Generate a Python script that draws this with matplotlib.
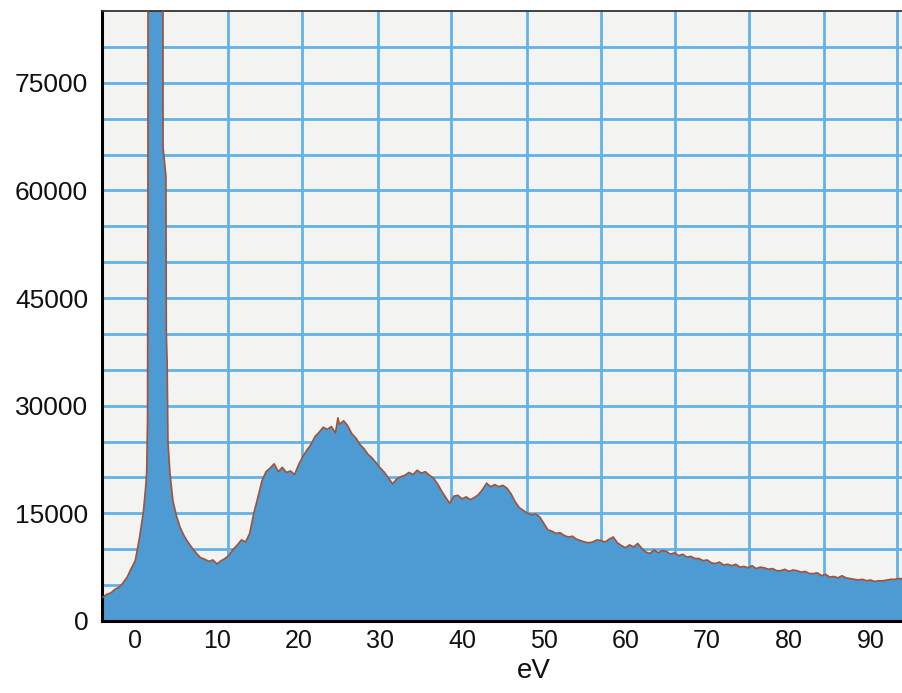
import matplotlib
matplotlib.use("Agg")
import matplotlib.pyplot as plt

# energy loss axis (eV) and counts
ev = [-4.0, -3.5, -3.0, -2.5, -2.0, -1.5, -1.0, -0.5, 0.0, 0.5, 1.0, 1.3,
      1.4, 1.5, 1.55, 1.6, 3.3, 3.4, 3.75, 3.8, 3.9, 4.0, 4.25, 4.6,
      5.0, 5.5, 6.0, 6.5, 7.0, 7.5, 8.0, 8.5, 9.0, 9.5, 10.0, 10.5,
      11.0, 11.5, 12.0, 12.5, 13.0, 13.5, 14.0, 14.5, 15.0, 15.5, 16.0, 16.5,
      17.0, 17.5, 18.0, 18.5, 19.0, 19.5, 20.0, 20.5, 21.0, 21.5, 22.0, 22.5,
      23.0, 23.5, 24.0, 24.5, 24.8, 25.0, 25.5, 26.0, 26.5, 27.0, 27.5, 28.0,
      28.5, 29.0, 29.5, 30.0, 30.5, 31.0, 31.5, 32.0, 32.5, 33.0, 33.5, 34.0,
      34.5, 35.0, 35.5, 36.0, 36.5, 37.0, 37.5, 38.0, 38.5, 39.0, 39.5, 40.0,
      40.5, 41.0, 41.5, 42.0, 42.5, 43.0, 43.5, 44.0, 44.5, 45.0, 45.5, 46.0,
      46.5, 47.0, 47.5, 48.0, 48.5, 49.0, 49.5, 50.0, 50.5, 51.0, 51.5, 52.0,
      52.5, 53.0, 53.5, 54.0, 54.5, 55.0, 55.5, 56.0, 56.5, 57.0, 57.5, 58.0,
      58.5, 59.0, 59.5, 60.0, 60.5, 61.0, 61.5, 62.0, 62.5, 63.0, 63.5, 64.0,
      64.5, 65.0, 65.5, 66.0, 66.5, 67.0, 67.5, 68.0, 68.5, 69.0, 69.5, 70.0,
      70.5, 71.0, 71.5, 72.0, 72.5, 73.0, 73.5, 74.0, 74.5, 75.0, 75.5, 76.0,
      76.5, 77.0, 77.5, 78.0, 78.5, 79.0, 79.5, 80.0, 80.5, 81.0, 81.5, 82.0,
      82.5, 83.0, 83.5, 84.0, 84.5, 85.0, 85.5, 86.0, 86.5, 87.0, 87.5, 88.0,
      88.5, 89.0, 89.5, 90.0, 90.5, 91.0, 91.5, 92.0, 92.5, 93.0, 93.5, 94.0]

counts = [3300, 3700, 3900, 4400, 4700, 5300, 6100, 7300, 8400, 11500, 15300, 19000,
          21000, 28000, 60000, 400000, 400000, 66000, 62000, 40000, 36000, 25000, 20500, 16800,
          14800, 13000, 11800, 10900, 10100, 9400, 8800, 8600, 8300, 8500, 7950, 8400,
          8700, 9200, 10000, 10600, 11300, 11000, 12200, 15000, 17200, 19500, 20800, 21300,
          21900, 20800, 21400, 20700, 20900, 20400, 21800, 22900, 23800, 24600, 25700, 26300,
          27000, 26700, 27100, 26200, 28300, 27400, 27900, 27200, 26100, 25500, 24600, 24000,
          23200, 22700, 22000, 21300, 20700, 19900, 19100, 19800, 20100, 20300, 20700, 20400,
          21000, 20600, 20800, 20300, 19900, 19100, 18100, 17200, 16400, 17400, 17500, 17000,
          17300, 16900, 17200, 17600, 18300, 19200, 18700, 19000, 18700, 18900, 18500, 17700,
          16600, 15800, 15400, 15000, 14800, 14900, 14500, 13600, 12700, 12500, 12200, 12300,
          11900, 11700, 11800, 11400, 11200, 11000, 10900, 11000, 11300, 11200, 11000, 11400,
          11700, 10900, 10500, 10200, 10600, 10300, 10800, 10100, 9600, 9400, 9900, 9500,
          9800, 9700, 9300, 9500, 9100, 9300, 8900, 9000, 8700, 8700, 8400, 8500,
          8100, 8000, 8200, 7800, 7900, 7700, 7900, 7500, 7600, 7400, 7700, 7300,
          7500, 7400, 7200, 7300, 7000, 7000, 7200, 6900, 7100, 7000, 6800, 6900,
          6600, 6600, 6700, 6300, 6500, 6100, 6200, 6000, 6300, 6000, 5900, 5800,
          5700, 5800, 5600, 5700, 5500, 5600, 5600, 5700, 5800, 5800, 5900, 5900]

xticks = [0, 10, 20, 30, 40, 50, 60, 70, 80, 90]
yticks = [0, 15000, 30000, 45000, 60000, 75000]
# blue lines of the graph paper behind the plot
paper_x = [2.2, 11.3, 20.4, 29.7, 38.7, 47.9, 57.0, 66.1, 75.1, 84.3, 93.2]
paper_y = list(range(5000, 85000, 5000))

plt.rcParams['font.family'] = ['Liberation Sans', 'DejaVu Sans']

fig = plt.figure(figsize=(9.03, 6.93), dpi=100)
fig.patch.set_facecolor('white')
ax = fig.add_axes([0.113, 0.104, 0.89, 0.88])
ax.set_facecolor('#f3f3f1')

for gx in paper_x:
    ax.axvline(gx, color='#62b2e8', lw=2.0, zorder=1)
for gy in paper_y:
    ax.axhline(gy, color='#62b2e8', lw=2.0, zorder=1)

ax.fill_between(ev, counts, 0, color='#4d9bd2', lw=0, zorder=2)
ax.plot(ev, counts, color='#a0523a', lw=1.2, zorder=3)

ax.set_xlim(-4.07, 94.3)
ax.set_ylim(0, 85000)
ax.set_xticks(xticks)
ax.set_yticks(yticks)
ax.set_xticklabels([str(t) for t in xticks])
ax.set_yticklabels([str(t) for t in yticks])
ax.tick_params(length=0, colors='#111111')
ax.tick_params(axis='y', pad=10, labelsize=19)
ax.tick_params(axis='x', pad=6, labelsize=18)

ax.set_xlabel('eV', fontsize=20, color='#111111')
ax.xaxis.set_label_coords(0.537, -0.06)

for side in ['left', 'bottom']:
    ax.spines[side].set_color('black')
    ax.spines[side].set_linewidth(2.2)
ax.spines['top'].set_color('#333333')
ax.spines['top'].set_linewidth(1.3)
ax.spines['right'].set_visible(False)

fig.savefig('out.png', dpi=100)
